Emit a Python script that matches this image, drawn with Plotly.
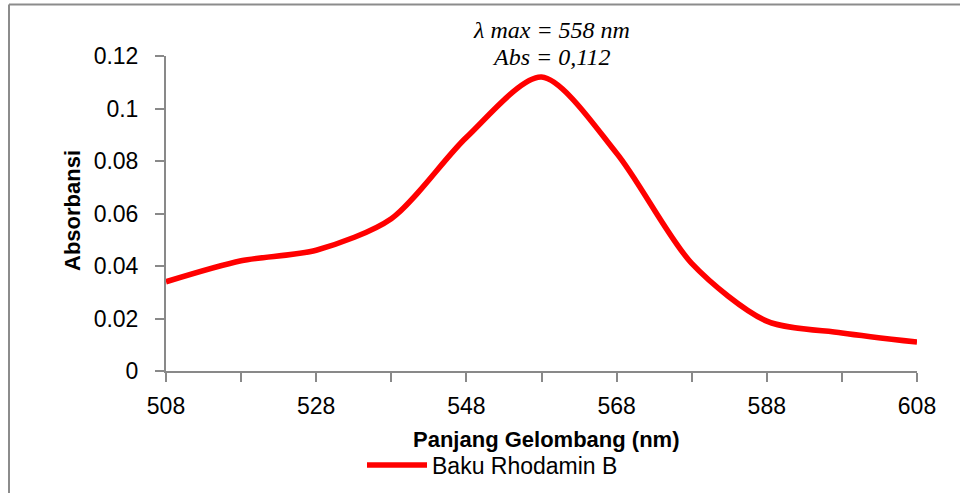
import plotly.graph_objects as go

wavelength = [508, 518, 528, 538, 548, 558, 568, 578, 588, 598, 608]
absorbance = [0.034, 0.042, 0.046, 0.058, 0.089, 0.112, 0.083, 0.041, 0.019, 0.0145, 0.011]
series_name = "Baku Rhodamin B"
x_title = "Panjang Gelombang (nm)"
y_title = "Absorbansi"
note_lines = ["λ max = 558 nm", "Abs = 0,112"]
x_tickvals = [508, 528, 548, 568, 588, 608]
y_tickvals = [0, 0.02, 0.04, 0.06, 0.08, 0.1, 0.12]
y_ticktext = ["0", "0.02", "0.04", "0.06", "0.08", "0.1", "0.12"]

W, H = 960, 493
L, R, T, B = 166, 43, 56, 122
PW, PH = W - L - R, H - T - B

def px(xp):
    return (xp - L) / PW

def py(yp):
    return (H - B - yp) / PH

AX = "#898989"
FONT = "Liberation Sans"

fig = go.Figure()
fig.add_trace(go.Scatter(
    x=wavelength, y=absorbance, mode="lines", name=series_name,
    line=dict(color="#FF0000", width=5.5, shape="spline", smoothing=0.8),
))

fig.update_layout(
    width=W, height=H,
    margin=dict(l=L, r=R, t=T, b=B, autoexpand=False),
    paper_bgcolor="white", plot_bgcolor="white",
    font=dict(family=FONT, size=23, color="black"),
    showlegend=True,
    legend=dict(x=px(362), y=py(465), xanchor="left", yanchor="middle",
                font=dict(family=FONT, size=23), bgcolor="rgba(0,0,0,0)",
                itemwidth=60),
    xaxis=dict(range=[508, 608], tickvals=x_tickvals, showgrid=False, zeroline=False,
               showline=True, linecolor=AX, linewidth=2,
               ticks="outside", ticklen=9, tickcolor=AX, tickwidth=2,
               minor=dict(dtick=10, tick0=508, ticks="outside", ticklen=9, tickcolor=AX, tickwidth=2),
               tickfont=dict(family=FONT, size=23), ticklabelstandoff=4),
    yaxis=dict(range=[0, 0.12], tickvals=y_tickvals, ticktext=y_ticktext, showgrid=False,
               zeroline=False, showline=True, linecolor=AX, linewidth=2,
               ticks="outside", ticklen=9, tickcolor=AX, tickwidth=2,
               tickfont=dict(family=FONT, size=23), ticklabelstandoff=12),
)

annotations = [
    dict(text=f"<b>{x_title}</b>", x=px(546), y=py(439), xref="paper", yref="paper",
         xanchor="center", yanchor="middle",
         showarrow=False, font=dict(family=FONT, size=22)),
    dict(text=f"<b>{y_title}</b>", x=px(72), y=py(210), xref="paper", yref="paper",
         xanchor="center", yanchor="middle",
         showarrow=False, textangle=-90, font=dict(family=FONT, size=22)),
    dict(text=f"<i>{note_lines[0]}</i>", x=px(551), y=py(30), xref="paper", yref="paper",
         xanchor="center", yanchor="middle",
         showarrow=False, font=dict(family="Liberation Serif", size=24)),
    dict(text=f"<i>{note_lines[1]}</i>", x=px(551), y=py(57), xref="paper", yref="paper",
         xanchor="center", yanchor="middle",
         showarrow=False, font=dict(family="Liberation Serif", size=24)),
]
fig.update_layout(annotations=annotations)

fig.add_shape(type="line", xref="paper", yref="paper", x0=px(9), x1=px(960), y0=py(4.5), y1=py(4.5),
              line=dict(color="#8c8c8c", width=2))
fig.add_shape(type="line", xref="paper", yref="paper", x0=px(9), x1=px(9), y0=py(4.5), y1=py(493),
              line=dict(color="#8c8c8c", width=2))

fig.write_html("out.html", config={"displayModeBar": False},
               post_script="document.body.style.margin='0';document.body.style.overflow='hidden';")
